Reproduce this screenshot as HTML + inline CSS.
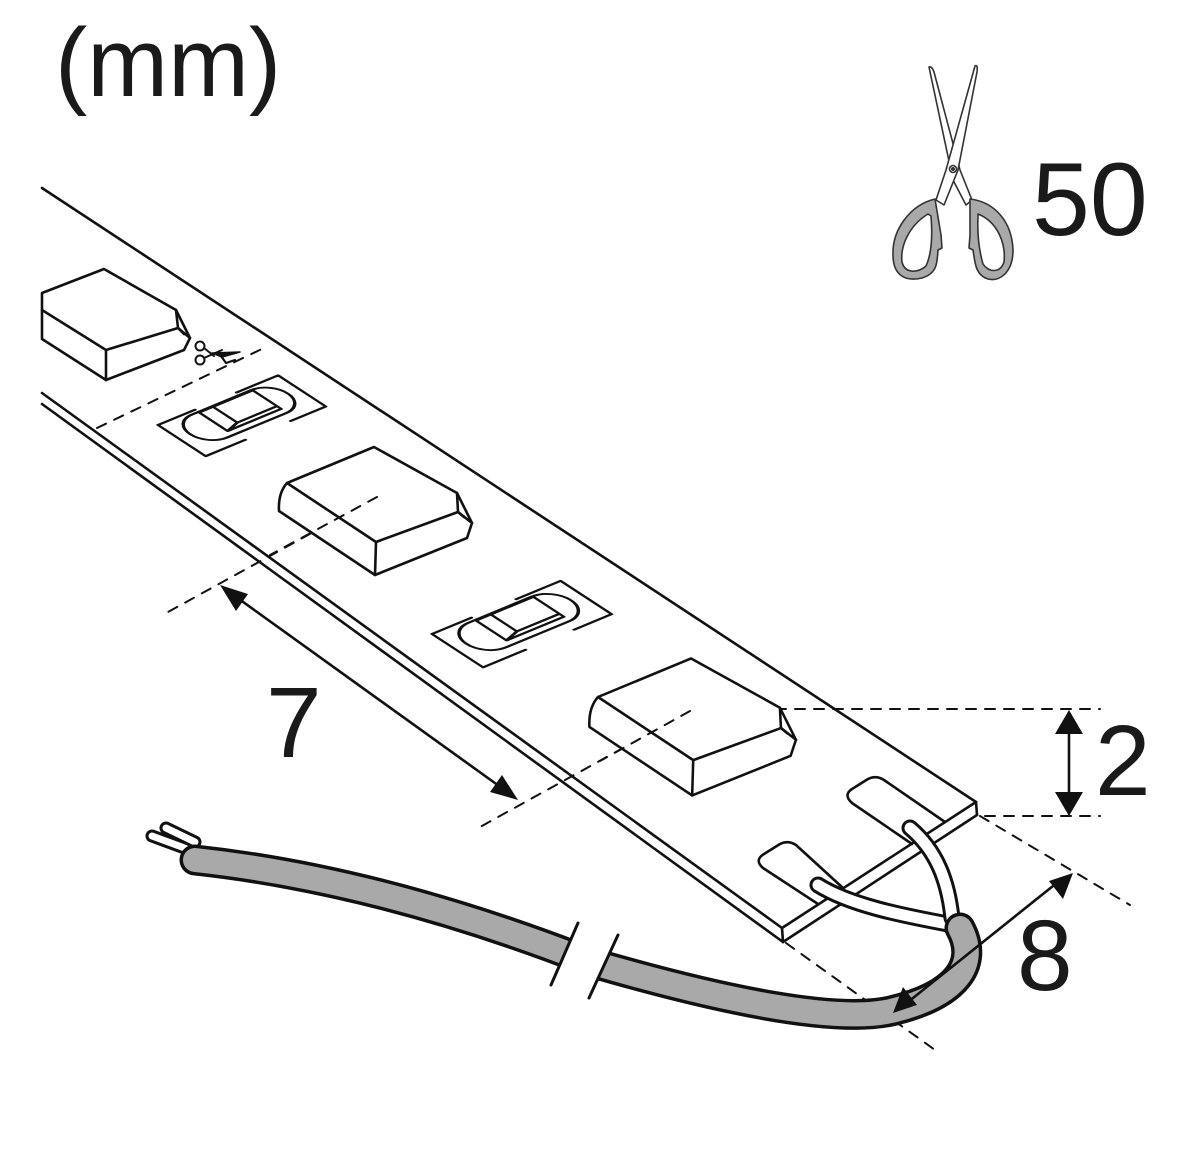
<!DOCTYPE html>
<html><head><meta charset="utf-8"><style>
html,body{margin:0;padding:0;background:#fff;}
svg{display:block;}
text{font-family:"Liberation Sans",sans-serif;fill:#1a1a1a;}
</style></head><body>
<svg width="1200" height="1160" viewBox="0 0 1200 1160" xmlns="http://www.w3.org/2000/svg">
<defs>
<clipPath id="cl"><polygon points="0,0 700,0 578,923 551,985 500,1160 0,1160"/></clipPath>
<clipPath id="cr"><polygon points="700,0 1200,0 1200,1160 560,1160 589,998 618,935"/></clipPath>
</defs>
<text x="55" y="96" font-size="97">(mm)</text>
<text x="1032" y="235" font-size="104">50</text>
<text x="266" y="757" font-size="100">7</text>
<text x="1095" y="795" font-size="100">2</text>
<text x="1017" y="990" font-size="100">8</text>

<g fill="none" stroke="#111" stroke-width="2.6" stroke-linejoin="round" stroke-linecap="round">
<line x1="42" y1="188" x2="976" y2="802"/>
<line x1="42" y1="393" x2="782" y2="928"/>
<line x1="42" y1="404" x2="783" y2="942"/>
<line x1="976" y1="802" x2="977" y2="815"/>
<line x1="782" y1="928" x2="783" y2="942"/>
<line x1="976" y1="802" x2="782" y2="928"/>
<line x1="977" y1="815" x2="783" y2="942"/>

<g stroke-dasharray="10,9" stroke-width="2">
<line x1="97" y1="428" x2="268" y2="346"/>
<line x1="377" y1="497" x2="168" y2="612"/>
<line x1="690" y1="711" x2="480" y2="827"/>
<line x1="700" y1="709" x2="1100" y2="709"/>
<line x1="985" y1="816" x2="1100" y2="816"/>
<line x1="980" y1="816" x2="1130" y2="905"/>
<line x1="786" y1="943" x2="935" y2="1050"/>
</g>

<path fill="#fff" d="M42,293 L104,269 L176,310 L178,328 L190,338 L184,350 L106,380 L42,339 Z"/>
<path d="M42,310 L106,350 L178,328 M106,350 L106,380 M176,310 L190,338 M178,328 L184,334"/>

<g transform="translate(287,483)">
<path fill="#fff" d="M0,0 L87,-36 L170,10 L171,29 L185,40 L180,55 L88,92 L-8,28 Q-9,10 0,0 Z"/>
<path d="M0,0 L89,59 L171,29 M89,59 L88,92 M170,10 L185,40 M171,29 L177,34"/>
</g>
<line x1="377" y1="497" x2="270" y2="555" stroke-dasharray="10,9" stroke-width="2"/>

<g transform="translate(598,697) scale(1.07)">
<path fill="#fff" d="M0,0 L87,-36 L170,10 L171,29 L185,40 L180,55 L88,92 L-8,28 Q-9,10 0,0 Z" stroke-width="2.4"/>
<path d="M0,0 L89,59 L171,29 M89,59 L88,92 M170,10 L185,40 M171,29 L177,34" stroke-width="2.4"/>
</g>
<line x1="690" y1="711" x2="600" y2="761" stroke-dasharray="10,9" stroke-width="2"/>

<g transform="matrix(0.837,0.547,0.924,-0.382,158,425)" stroke-width="2.8">
<path d="M0,40 L0,0 L57,0 L57,43 M0,85 L0,130 L57,130 L57,92"/>
<rect x="4" y="12" width="42" height="106" rx="21" ry="21"/>
<path d="M5,40 L5,98 L39,98 L39,40 Z M5,55 L34,55 L34,98 M34,55 L39,40"/>
</g>
<g transform="matrix(0.896,0.585,0.989,-0.409,432,634)" stroke-width="2.6">
<path d="M0,40 L0,0 L57,0 L57,43 M0,85 L0,130 L57,130 L57,92"/>
<rect x="4" y="12" width="42" height="106" rx="21" ry="21"/>
<path d="M5,40 L5,98 L39,98 L39,40 Z M5,55 L34,55 L34,98 M34,55 L39,40"/>
</g>

<path d="M912,844 L852,803 Q843,795 852,789 L868,779 Q876,775 884,780 L945,822"/>
<path d="M818,904 L763,868 Q754,860 764,854 L780,844 Q788,840 796,845 L843,888"/>

<g stroke-width="2">
<circle cx="200" cy="346" r="4.5"/>
<circle cx="200" cy="360" r="4.5"/>
<path d="M204,348 L214,356 M204,358 L222,350"/>
</g>
<path d="M212,353 L240,352 L222,357 Z" fill="#111" stroke-width="1.5"/>
<path d="M221,356 L226,363 L235,360" stroke-width="2.2"/>

<line x1="232" y1="594" x2="506" y2="791"/>
<line x1="1069" y1="730" x2="1069" y2="796"/>
</g>
<g fill="#111">
<path d="M220,585 L248,594 L236,611 Z"/>
<path d="M518,800 L490,792 L502,775 Z"/>
<path d="M1069,710 L1083,734 L1055,734 Z"/>
<path d="M1069,816 L1083,792 L1055,792 Z"/>
</g>

<g fill="none" stroke-linecap="round">
<path d="M152,836 L190,850" stroke="#111" stroke-width="13"/>
<path d="M152,836 L190,850" stroke="#fff" stroke-width="7"/>
<path d="M166,828 L195,842" stroke="#111" stroke-width="13"/>
<path d="M166,828 L195,842" stroke="#fff" stroke-width="7"/>
<g clip-path="url(#cl)">
<path d="M195,860 Q380,880 590,962" stroke="#111" stroke-width="31"/>
<path d="M195,860 Q380,880 590,962" stroke="#a8a9a8" stroke-width="24"/>
</g>
<path d="M948,924 C900,915 850,905 818,885" stroke="#111" stroke-width="17"/>
<path d="M948,924 C900,915 850,905 818,885" stroke="#fff" stroke-width="11"/>
<path d="M952,918 C948,880 936,850 910,828" stroke="#111" stroke-width="17"/>
<path d="M952,918 C948,880 936,850 910,828" stroke="#fff" stroke-width="11"/>
<g clip-path="url(#cr)">
<path d="M590,962 C720,1000 840,1025 895,1010 C955,995 980,965 960,928" stroke="#111" stroke-width="31"/>
<path d="M590,962 C720,1000 840,1025 895,1010 C955,995 980,965 960,928" stroke="#a8a9a8" stroke-width="24"/>
</g>
<line x1="578" y1="923" x2="551" y2="985" stroke="#111" stroke-width="3"/>
<line x1="618" y1="935" x2="589" y2="998" stroke="#111" stroke-width="3"/>
</g>
<line x1="1058" y1="882" x2="908" y2="1002" stroke="#111" stroke-width="2.6"/>
<g fill="#111">
<path d="M1073,873 L1063,899 L1049,881 Z"/>
<path d="M893,1013 L903,987 L917,1005 Z"/>
</g>

<g stroke="#333" stroke-width="1.6" stroke-linejoin="round">
<path d="M929,67 Q932,66 934,72 L960,170 L972,200 L966,205 L953,180 Z" fill="#fff"/>
<path d="M975,66 Q978,64 977,72 L958,170 L944,205 L936,200 L946,170 Z" fill="#fff"/>
<circle cx="953" cy="169" r="3.5" fill="#fff"/>
<circle cx="953" cy="169" r="1.2" fill="#333"/>
<path d="M935,199 C910,205 892,230 893,255 C893,275 905,282 922,278 C938,273 937,262 938,250 L942,248 L941,235 Z" fill="#a8a9a8"/>
<path d="M928,214 C910,225 900,245 902,262 C905,274 918,273 926,266 C931,255 933,240 931,216 Z" fill="#fff"/>
<path d="M970,199 C995,202 1012,222 1013,250 C1013,272 1000,282 988,279 C975,275 975,262 973,250 L969,248 L970,235 Z" fill="#a8a9a8"/>
<path d="M978,214 C998,222 1006,244 1004,262 C1000,274 988,272 983,264 C979,250 977,236 978,216 Z" fill="#fff"/>
</g>
</svg>
</body></html>
